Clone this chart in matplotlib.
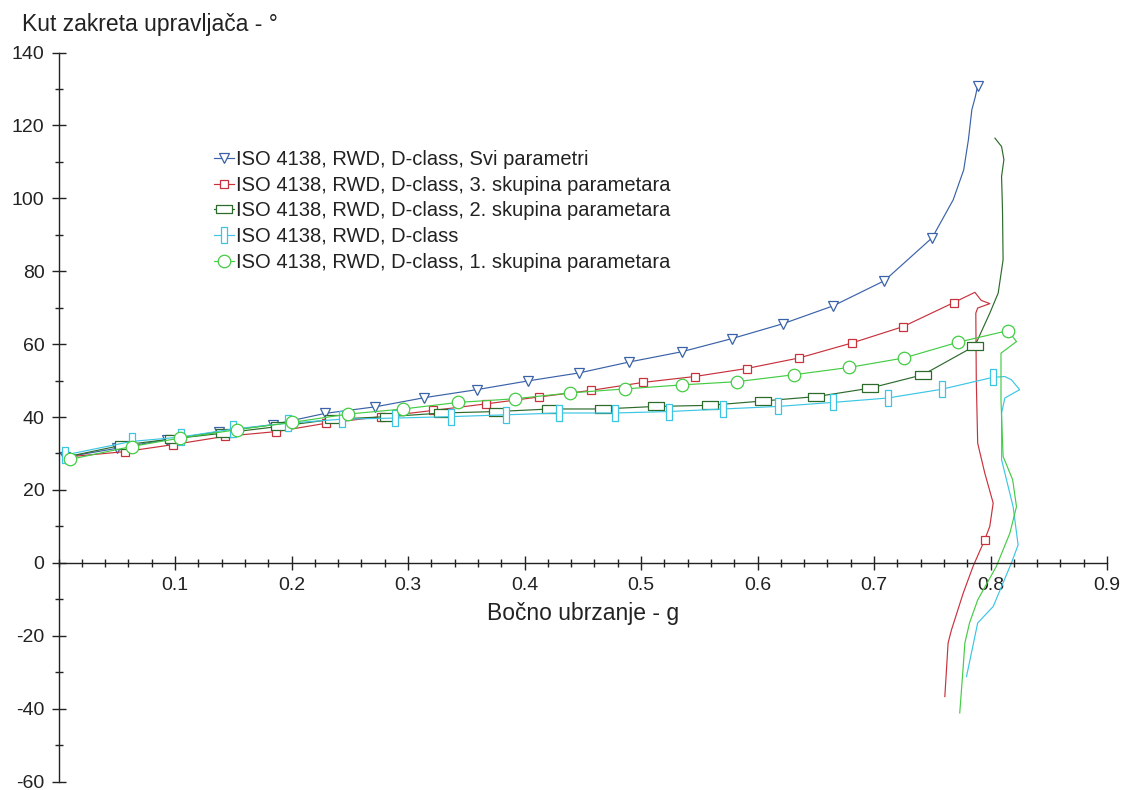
import matplotlib
matplotlib.use("Agg")
import matplotlib.pyplot as plt
from matplotlib.path import Path
from matplotlib.ticker import MultipleLocator, FixedLocator

plt.rcParams['font.family'] = ['Liberation Sans', 'DejaVu Sans']
plt.rcParams['axes.unicode_minus'] = False

# ---------------- data ----------------
labels = [
    "ISO 4138, RWD, D-class, Svi parametri",
    "ISO 4138, RWD, D-class, 3. skupina parametara",
    "ISO 4138, RWD, D-class, 2. skupina parametara",
    "ISO 4138, RWD, D-class",
    "ISO 4138, RWD, D-class, 1. skupina parametara",
]

svi_x = [0.006, 0.050, 0.093, 0.138, 0.184, 0.229, 0.272, 0.314, 0.359, 0.403, 0.447,
         0.490, 0.535, 0.578, 0.622, 0.665, 0.709, 0.750, 0.768, 0.777, 0.781, 0.784,
         0.787, 0.789]
svi_y = [29.0, 31.4, 33.8, 36.0, 37.9, 41.0, 42.8, 45.3, 47.5, 49.9, 52.1,
         55.1, 57.9, 61.5, 65.6, 70.5, 77.4, 89.2, 99.6, 107.8, 116.0, 124.3,
         127.9, 130.9]
svi_marks = list(range(0, 18)) + [23]

s3_x = [0.006, 0.057, 0.098, 0.143, 0.187, 0.230, 0.277, 0.3215, 0.367, 0.4125, 0.457,
        0.502, 0.546, 0.5906, 0.6357, 0.681, 0.725, 0.7685, 0.7866, 0.792, 0.7994, 0.789,
        0.7874, 0.7878, 0.789, 0.7951, 0.8023, 0.7994, 0.795, 0.785, 0.7766, 0.7665,
        0.7636, 0.7608]
s3_y = [29.0, 30.5, 32.4, 34.7, 36.0, 38.3, 40.1, 41.8, 43.6, 45.5, 47.3,
        49.5, 51.1, 53.3, 56.2, 60.3, 64.8, 71.4, 74.2, 72.0, 71.1, 69.9,
        68.5, 50.0, 32.8, 24.6, 16.4, 10.0, 6.3, -1.0, -8.3, -18.4,
        -22.0, -36.7]
s3_marks = list(range(1, 18)) + [28]

s2_x = [0.006, 0.055, 0.098, 0.142, 0.189, 0.236, 0.283, 0.3296, 0.376, 0.4217, 0.467,
        0.5127, 0.559, 0.6048, 0.6506, 0.6964, 0.7421, 0.7866, 0.7994, 0.8066, 0.8108,
        0.8103, 0.8095, 0.8115, 0.8095, 0.8038]
s2_y = [29.0, 32.3, 34.0, 35.6, 37.4, 39.4, 40.1, 41.1, 41.5, 42.2, 42.2,
        42.9, 43.2, 44.4, 45.6, 47.9, 51.6, 59.5, 68.5, 74.0, 83.1,
        96.8, 106.0, 110.6, 114.2, 116.5]
s2_marks = list(range(1, 18))

d_x = [0.006, 0.0627, 0.105, 0.150, 0.197, 0.243, 0.2887, 0.3365, 0.384, 0.430, 0.4775,
       0.524, 0.5705, 0.6177, 0.6644, 0.7116, 0.758, 0.8023, 0.8123, 0.818, 0.825,
       0.8123, 0.8095, 0.8095, 0.8194, 0.8237, 0.818, 0.8023, 0.789, 0.7794]
d_y = [29.6, 33.3, 34.5, 36.7, 38.3, 39.4, 39.7, 40.1, 40.6, 41.1, 41.1,
       41.5, 42.2, 42.9, 44.0, 45.2, 47.6, 50.9, 51.1, 50.2, 47.5,
       45.2, 41.1, 28.3, 15.4, 4.9, 0.0, -12.0, -16.5, -31.2]
d_marks = list(range(0, 18))

s1_x = [0.0103, 0.0627, 0.104, 0.1528, 0.200, 0.2486, 0.2958, 0.343, 0.3917, 0.439, 0.486,
        0.5348, 0.5825, 0.6314, 0.6786, 0.7258, 0.772, 0.815, 0.8223, 0.809, 0.809,
        0.8108, 0.819, 0.8223, 0.8166, 0.805, 0.789, 0.782, 0.778, 0.7766, 0.7736]
s1_y = [28.4, 31.9, 34.2, 36.5, 38.5, 40.8, 42.2, 44.0, 45.0, 46.6, 47.7,
        48.8, 49.7, 51.6, 53.6, 56.2, 60.5, 63.7, 60.7, 57.5, 44.7,
        29.2, 22.8, 15.4, 8.1, -1.0, -10.2, -16.5, -22.0, -28.4, -41.2]
s1_marks = list(range(0, 18))

x_ticks = [0.1, 0.2, 0.3, 0.4, 0.5, 0.6, 0.7, 0.8, 0.9]
y_ticks = [-60, -40, -20, 0, 20, 40, 60, 80, 100, 120, 140]

# ---------------- style ----------------
c_blue = '#3a62a8'
c_red = '#c8323c'
c_dgreen = '#2d6b2d'
c_cyan = '#3cc6e4'
c_lgreen = '#44cc44'

hrect = Path([(-1, -0.5), (1, -0.5), (1, 0.5), (-1, 0.5), (-1, -0.5)],
             [Path.MOVETO, Path.LINETO, Path.LINETO, Path.LINETO, Path.CLOSEPOLY])
vrect = Path([(-0.45, -1), (0.45, -1), (0.45, 1), (-0.45, 1), (-0.45, -1)],
             [Path.MOVETO, Path.LINETO, Path.LINETO, Path.LINETO, Path.CLOSEPOLY])

W, H = 1123, 790
fig = plt.figure(figsize=(W / 100, H / 100), dpi=100)
x0, x1 = 58.5, 1107.0
ytop, ybot = 52.5, 781.5
ax = fig.add_axes([x0 / W, 1 - ybot / H, (x1 - x0) / W, (ybot - ytop) / H])
ax.set_xlim(0, 0.9)
ax.set_ylim(-60, 140)

lw = 0.85
mew = 0.9
series = [
    (svi_x, svi_y, svi_marks, c_blue, 'v', 7.5, labels[0]),
    (s3_x, s3_y, s3_marks, c_red, 's', 5.5, labels[1]),
    (s2_x, s2_y, s2_marks, c_dgreen, hrect, 11, labels[2]),
    (d_x, d_y, d_marks, c_cyan, vrect, 11, labels[3]),
    (s1_x, s1_y, s1_marks, c_lgreen, 'o', 9, labels[4]),
]
for xs, ys, mk, col, m, ms, lab in series:
    ax.plot(xs, ys, color=col, lw=lw, marker=m, markersize=ms, markevery=mk,
            markerfacecolor='white', markeredgecolor=col, markeredgewidth=mew,
            label=lab)

# spines
ax.spines['top'].set_visible(False)
ax.spines['right'].set_visible(False)
ax.spines['bottom'].set_position(('data', 0))
for s in ('left', 'bottom'):
    ax.spines[s].set_linewidth(1.0)
    ax.spines[s].set_color('#222222')

ax.xaxis.set_major_locator(FixedLocator(x_ticks))
ax.xaxis.set_minor_locator(MultipleLocator(0.02))
ax.yaxis.set_major_locator(FixedLocator(y_ticks))
ax.yaxis.set_minor_locator(MultipleLocator(10))
ax.set_xticklabels([f"{v:.1f}" for v in x_ticks])
ax.set_yticklabels([str(v) for v in y_ticks])

ax.tick_params(axis='both', which='major', direction='inout', length=10, width=1.0,
               color='#222222', labelsize=14, labelcolor='#222222')
ax.tick_params(axis='both', which='minor', direction='inout', length=6, width=1.0,
               color='#222222')
ax.tick_params(axis='x', which='major', pad=5)
ax.tick_params(axis='y', which='major', pad=5)

# axis titles
fig.text(22 / W, 1 - 31 / H, "Kut zakreta upravljača - °", ha='left', va='baseline',
         fontsize=16.5, color='#222222')
fig.text(583 / W, 1 - 620 / H, "Bočno ubrzanje - g", ha='center', va='baseline',
         fontsize=16.5, color='#222222')

leg = ax.legend(loc='upper left', bbox_to_anchor=(214 / W, 1 - 150 / H),
                bbox_transform=fig.transFigure, frameon=False, fontsize=14.5,
                handlelength=1.0, handletextpad=0.1, labelspacing=0.33,
                borderpad=0, borderaxespad=0, numpoints=1)
for t in leg.get_texts():
    t.set_color('#222222')

fig.savefig('out.png', dpi=100, facecolor='white')
